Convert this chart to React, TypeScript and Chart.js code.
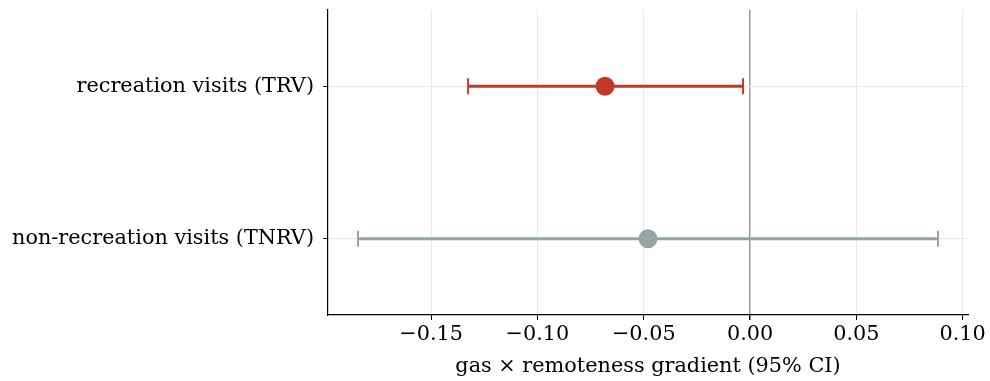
import React, { useEffect, useRef } from "react";
import { Chart, registerables } from "chart.js";

Chart.register(...registerables);

const categories = ["recreation visits (TRV)", "non-recreation visits (TNRV)"];
const estimates = [-0.0682, -0.048];
const lowerCI = [-0.1326, -0.1844];
const upperCI = [-0.0033, 0.0884];
const colors = ["#c0392b", "#95a5a6"];
const xTicks = [-0.15, -0.1, -0.05, 0, 0.05, 0.1];
const xMin = -0.1985;
const xMax = 0.1025;
const xTitle = "gas × remoteness gradient (95% CI)";

const FONT = "DejaVu Serif";
const FS = 20.8;

export default function App() {
  const ref = useRef<HTMLCanvasElement>(null);
  useEffect(() => {
    const canvas = ref.current!;
    const datasets: any[] = [];
    categories.forEach((c, i) => {
      datasets.push({
        type: "scatter",
        data: [
          { x: lowerCI[i], y: c },
          { x: upperCI[i], y: c },
        ],
        showLine: true,
        borderColor: colors[i],
        borderWidth: 2.8,
        pointStyle: "line",
        rotation: 90,
        pointRadius: 8,
        pointBorderColor: colors[i],
        pointBorderWidth: 2,
        order: 2,
      });
      datasets.push({
        type: "scatter",
        data: [{ x: estimates[i], y: c }],
        pointRadius: 9.5,
        pointBackgroundColor: colors[i],
        pointBorderWidth: 0,
        order: 1,
      });
    });
    const chart = new Chart(canvas, {
      type: "scatter",
      data: { datasets },
      options: {
        animation: false,
        responsive: false,
        maintainAspectRatio: false,
        layout: { padding: { top: 10, right: 22, left: 0, bottom: 0 } },
        plugins: { legend: { display: false }, tooltip: { enabled: false } },
        scales: {
          x: {
            type: "linear",
            min: xMin,
            max: xMax,
            afterBuildTicks: (s: any) => {
              s.ticks = xTicks.map((v) => ({ value: v }));
            },
            afterFit: (s: any) => {
              s.height = 66;
              s.paddingLeft = 0;
              s.paddingRight = 0;
            },
            grid: {
              color: (ctx: any) => (ctx.tick && ctx.tick.value === 0 ? "#999999" : "#e8e8e8"),
              lineWidth: (ctx: any) => (ctx.tick && ctx.tick.value === 0 ? 1.5 : 1),
              tickColor: "#000",
              tickLength: 5,
              drawTicks: true,
            },
            border: { display: true, color: "#000", width: 1.2 },
            ticks: {
              color: "#000",
              font: { family: FONT, size: FS },
              padding: 2,
              maxRotation: 0,
              callback: (v: any) => {
                const n = Number(v);
                if (Math.abs(n) < 1e-9) return "0.00";
                return (n < 0 ? "\u2212" : "") + Math.abs(n).toFixed(2);
              },
            },
            title: {
              display: true,
              text: xTitle,
              color: "#000",
              font: { family: FONT, size: FS },
              padding: { top: 0, bottom: 2 },
            },
          },
          y: {
            type: "category",
            labels: categories,
            offset: true,
            afterFit: (s: any) => {
              s.width = 328;
              s.paddingTop = 0;
              s.paddingBottom = 0;
            },
            grid: {
              color: "#e8e8e8",
              lineWidth: 1,
              offset: false,
              tickColor: "#000",
              tickLength: 5,
            },
            border: { display: true, color: "#000", width: 1.2 },
            ticks: {
              color: "#000",
              font: { family: FONT, size: FS },
              padding: 9,
            },
          },
        },
      },
    });
    return () => chart.destroy();
  }, []);
  return (
    <div style={{ position: "absolute", left: 0, top: 0, width: 990, height: 381, background: "#fff" }}>
      <canvas ref={ref} width={990} height={381} style={{ width: 990, height: 381 }} />
    </div>
  );
}
